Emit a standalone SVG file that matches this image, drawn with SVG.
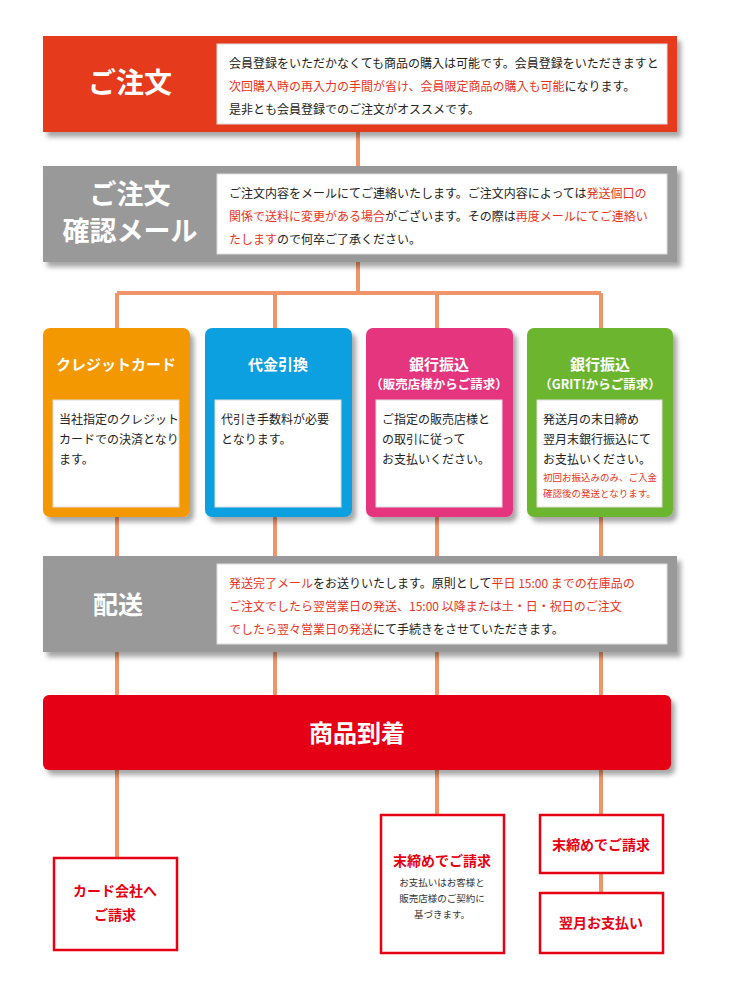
<svg xmlns="http://www.w3.org/2000/svg" width="730" height="990" viewBox="0 0 730 990">
<style>
text{font-family:"Noto Sans CJK JP","Noto Sans",sans-serif;}
.h{fill:#fff;font-weight:bold;text-anchor:middle}
.b{font-size:12px;fill:#222}
.r{fill:#e8341c}
.in{fill:#fff;stroke:#ddd;stroke-width:1}
.ln{stroke:#f0956a;stroke-width:4;fill:none}
.ob{fill:#fff;stroke:#e60012;stroke-width:2.5}
.rt{fill:#e60012;font-weight:bold;text-anchor:middle}
</style>
<defs>
<filter id="sh" x="-5%" y="-10%" width="115%" height="130%"><feDropShadow dx="4" dy="5" stdDeviation="2.5" flood-color="#000" flood-opacity="0.35"/></filter>
</defs>
<g id="connectors">
<path class="ln" d="M358 132V166M358 262V293M117 293H601M117 293V556M275 293V556M437 293V556M601 293V556M117 652V695M275 652V695M437 652V695M601 652V695M117 770V858M437 770V815M601 770V815M601 873V893"/>
</g>
<g id="order">
<rect x="43" y="36" width="634" height="96" fill="#e53a1b" filter="url(#sh)"/>
<rect class="in" x="217" y="44" width="450" height="80"/>
<text class="h" x="130" y="93" font-size="28">ご注文</text>
<text class="b" x="229" y="68">会員登録をいただかなくても商品の購入は可能です。会員登録をいただきますと</text>
<text class="b" x="229" y="91"><tspan class="r">次回購入時の再入力の手間が省け、会員限定商品の購入も可能</tspan>になります。</text>
<text class="b" x="229" y="114">是非とも会員登録でのご注文がオススメです。</text>
</g>
<g id="confirm">
<rect x="43" y="166" width="634" height="96" fill="#999" filter="url(#sh)"/>
<rect class="in" x="217" y="174" width="450" height="80"/>
<text class="h" x="130" y="204" font-size="27">ご注文</text>
<text class="h" x="130" y="241" font-size="27">確認メール</text>
<text class="b" x="229" y="198">ご注文内容をメールにてご連絡いたします。ご注文内容によっては<tspan class="r">発送個口の</tspan></text>
<text class="b" x="229" y="221"><tspan class="r">関係で送料に変更がある場合</tspan>がございます。その際は<tspan class="r">再度メールにてご連絡い</tspan></text>
<text class="b" x="229" y="244"><tspan class="r">たします</tspan>ので何卒ご了承ください。</text>
</g>
<g id="card">
<rect x="43" y="328" width="147" height="189" rx="7" fill="#f39800" filter="url(#sh)"/>
<rect class="in" x="53" y="400" width="126" height="107"/>
<text class="h" x="116" y="370" font-size="15">クレジットカード</text>
<text class="b" x="59" y="424">当社指定のクレジット</text>
<text class="b" x="59" y="444">カードでの決済となり</text>
<text class="b" x="59" y="464">ます。</text>
</g>
<g id="cod">
<rect x="205" y="328" width="147" height="189" rx="7" fill="#0aa0e0" filter="url(#sh)"/>
<rect class="in" x="215" y="400" width="126" height="107"/>
<text class="h" x="278" y="370" font-size="15">代金引換</text>
<text class="b" x="221" y="424">代引き手数料が必要</text>
<text class="b" x="221" y="444">となります。</text>
</g>
<g id="bank1">
<rect x="366" y="328" width="147" height="189" rx="7" fill="#e4347e" filter="url(#sh)"/>
<rect class="in" x="376" y="400" width="126" height="107"/>
<text class="h" x="439" y="370" font-size="15">銀行振込</text>
<text class="h" x="439" y="389" font-size="12.5">（販売店様からご請求）</text>
<text class="b" x="382" y="424">ご指定の販売店様と</text>
<text class="b" x="382" y="444">の取引に従って</text>
<text class="b" x="382" y="464">お支払いください。</text>
</g>
<g id="bank2">
<rect x="527" y="328" width="146" height="189" rx="7" fill="#6cb52d" filter="url(#sh)"/>
<rect class="in" x="537" y="400" width="125" height="107"/>
<text class="h" x="600" y="370" font-size="15">銀行振込</text>
<text class="h" x="600" y="389" font-size="12.5">（GRIT!からご請求）</text>
<text class="b" x="543" y="424">発送月の末日締め</text>
<text class="b" x="543" y="444">翌月末銀行振込にて</text>
<text class="b" x="543" y="464">お支払いください。</text>
<text x="543" y="481" font-size="9.5" fill="#e8341c">初回お振込みのみ、ご入金</text>
<text x="543" y="497" font-size="9.5" fill="#e8341c">確認後の発送となります。</text>
</g>
<g id="ship">
<rect x="43" y="556" width="634" height="96" fill="#999" filter="url(#sh)"/>
<rect class="in" x="217" y="564" width="450" height="80"/>
<text class="h" x="118" y="614" font-size="25">配送</text>
<text class="b" x="229" y="588"><tspan class="r">発送完了メール</tspan>をお送りいたします。原則として<tspan class="r">平日 15:00 までの在庫品の</tspan></text>
<text class="b" x="229" y="611"><tspan class="r">ご注文でしたら翌営業日の発送、15:00 以降または土・日・祝日のご注文</tspan></text>
<text class="b" x="229" y="634"><tspan class="r">でしたら翌々営業日の発送</tspan>にて手続きをさせていただきます。</text>
</g>
<g id="arrival">
<rect x="43" y="695" width="628" height="75" rx="6" fill="#e60012" filter="url(#sh)"/>
<text class="h" x="357" y="742" font-size="24">商品到着</text>
</g>
<g id="cardco">
<rect class="ob" x="54" y="858" width="123" height="92"/>
<text class="rt" x="115" y="896" font-size="14">カード会社へ</text>
<text class="rt" x="115" y="920" font-size="14">ご請求</text>
</g>
<g id="close1">
<rect class="ob" x="381" y="815" width="123" height="138"/>
<text class="rt" x="442" y="866" font-size="14">末締めでご請求</text>
<text x="442" y="886" font-size="9.5" fill="#333" text-anchor="middle">お支払いはお客様と</text>
<text x="442" y="902" font-size="9.5" fill="#333" text-anchor="middle">販売店様のご契約に</text>
<text x="442" y="918" font-size="9.5" fill="#333" text-anchor="middle">基づきます。</text>
</g>
<g id="close2">
<rect class="ob" x="540" y="815" width="123" height="58"/>
<text class="rt" x="601" y="850" font-size="14">末締めでご請求</text>
</g>
<g id="pay">
<rect class="ob" x="540" y="893" width="123" height="60"/>
<text class="rt" x="601" y="928" font-size="14">翌月お支払い</text>
</g>
</svg>
